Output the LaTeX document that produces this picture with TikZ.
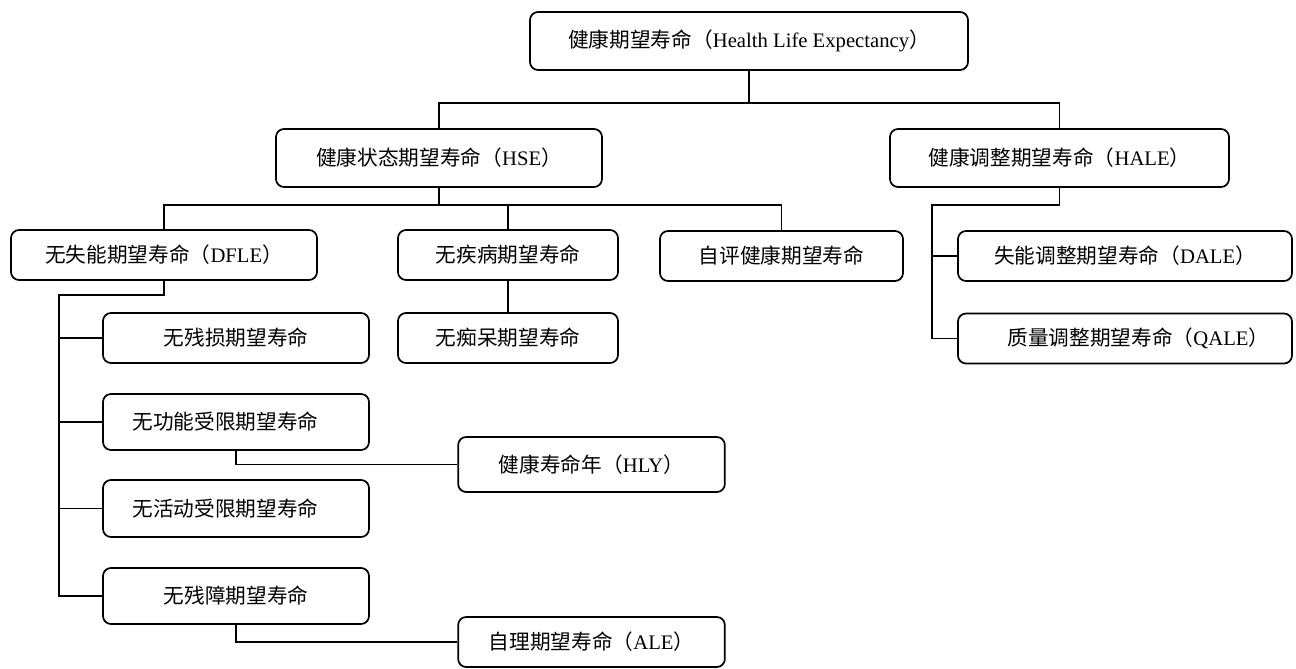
\documentclass[tikz,border=0pt]{standalone}
\usepackage{fontspec}
\setmainfont{Liberation Serif}
\newfontfamily\cjk{Noto Sans CJK SC}
\newcommand{\zh}[1]{{\cjk #1}}

\begin{document}
\begin{tikzpicture}[x=0.75pt,y=-0.75pt,line width=1.3pt,
  every node/.style={align=center,font=\fontsize{15.5pt}{18pt}\selectfont},
  box/.style={draw,rounded corners=6pt,inner sep=0pt,minimum height=37.5pt},
  tallbox/.style={box,minimum height=43.5pt}]
\useasboundingbox (0,0) rectangle (1296,668);
% levels one and two
\node[tallbox,minimum width=328.5pt] (top) at (749,41) {\zh{健康期望寿命（}Health Life Expectancy\zh{）}};
\node[tallbox,minimum width=244.5pt] (hse) at (439,158) {\zh{健康状态期望寿命（}HSE\zh{）}};
\node[tallbox,minimum width=254.25pt] (hale) at (1059.5,158) {\zh{健康调整期望寿命（}HALE\zh{）}};
% level three
\node[box,minimum width=229.5pt] (dfle) at (164,255) {\zh{无失能期望寿命（}DFLE\zh{）}};
\node[box,minimum width=165pt] (nodis) at (508,255) {\zh{无疾病期望寿命}};
\node[box,minimum width=182.25pt] (self) at (781.5,256) {\zh{自评健康期望寿命}};
\node[box,minimum width=250.5pt] (dale) at (1125,256) {\zh{失能调整期望寿命（}DALE\zh{）}};
\node[box,minimum width=250.5pt] (qale) at (1125,338.5) {\hspace{20pt}\zh{质量调整期望寿命（}QALE\zh{）}};
\node[box,minimum width=165pt] (nodem) at (508,338) {\zh{无痴呆期望寿命}};
% under DFLE
\node[box,minimum width=199.5pt] (noimp) at (236,338) {\zh{无残损期望寿命}};
\node[box,minimum width=199.5pt,minimum height=42pt] (nofun) at (236,422) {\zh{无功能受限期望寿命}\hspace{16pt}};
\node[box,minimum width=199.5pt,minimum height=42.75pt] (noact) at (236,508.5) {\zh{无活动受限期望寿命}\hspace{16pt}};
\node[box,minimum width=199.5pt,minimum height=42pt] (nohand) at (236,596) {\zh{无残障期望寿命}};
\node[box,minimum width=200pt,minimum height=41.25pt] (hly) at (591.5,464.5) {\zh{健康寿命年（}HLY\zh{）}};
\node[box,minimum width=200pt] (ale) at (591.5,642) {\zh{自理期望寿命（}ALE\zh{）}};
% connectors
\coordinate (j1) at (749,103);
\coordinate (j2) at (439,205);
\coordinate (b1) at (59,295);
\coordinate (b2) at (932,205);
\draw (top) -- (j1);
\draw (hse.north) |- (j1) -| (hale.north);
\draw (hse) -- (j2);
\draw (dfle.north) |- (j2) -| (self.north);
\draw (nodis.north) -- (nodis.north |- j2);
\draw (nodis) -- (nodem);
\draw (dfle.south) |- (b1) |- (nohand.west);
\foreach \n in {noimp,nofun,noact}
  \draw (\n.west) -- (\n.west -| b1);
\draw (nofun.south) |- (hly.west);
\draw (nohand.south) |- (ale.west);
\draw (hale.south) |- (b2) |- (qale.west);
\draw (dale.west) -- (dale.west -| b2);
\end{tikzpicture}
\end{document}
